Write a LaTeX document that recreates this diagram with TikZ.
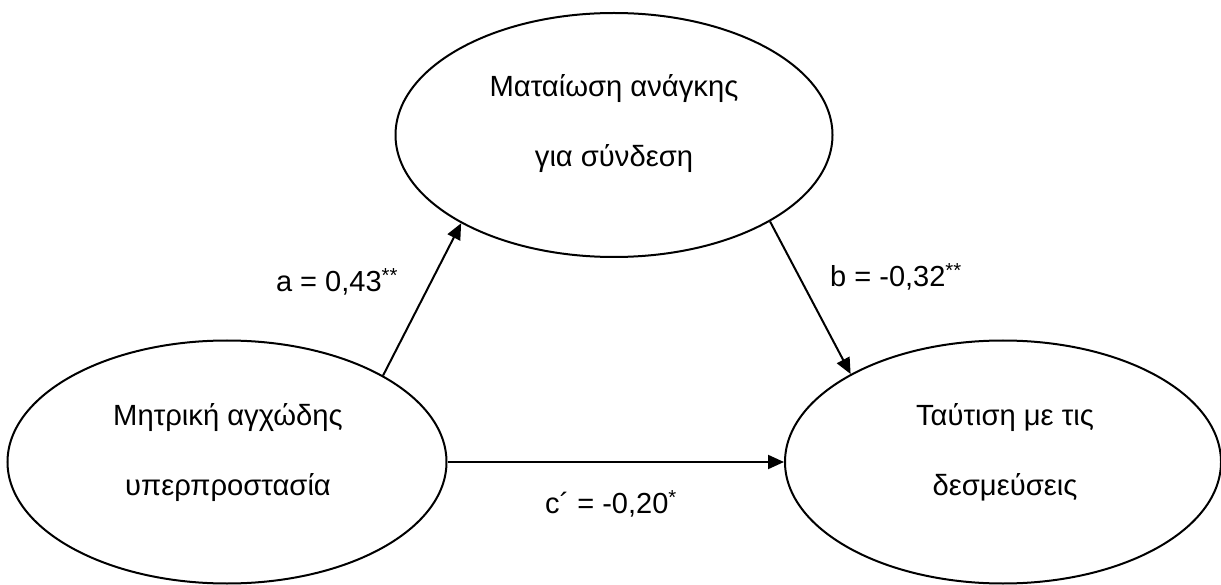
\documentclass[tikz,border=0pt]{standalone}
\usepackage{fontspec}
\setmainfont{Liberation Sans}
\usetikzlibrary{shapes.geometric,arrows.meta}
\tikzset{
  x=1pt, y=-1pt,
  oval/.style={draw, ellipse, line width=2pt, inner sep=0pt},
  ovaltext/.style={align=center, font=\fontsize{29.2}{70}\selectfont, inner sep=0pt},
  coef/.style={font=\fontsize{29}{34}\selectfont, inner sep=0pt},
  path/.style={line width=2pt, -{Triangle[length=16pt,width=14pt]}}
}
\begin{document}
\begin{tikzpicture}
\useasboundingbox (0,0) rectangle (1221,585);
\node[oval, minimum width=437pt, minimum height=244pt] (M) at (614,135) {};
\node[oval, minimum width=439pt, minimum height=243pt] (L) at (227,462) {};
\node[oval, minimum width=436pt, minimum height=243pt] (R) at (1003,462) {};
\node[ovaltext] (Mt) at (614,124) {Ματαίωση ανάγκης\\για σύνδεση};
\node[ovaltext] (Lt) at (228,453) {Μητρική αγχώδης\\υπερπροστασία};
\node[ovaltext] (Rt) at (1005,452) {Ταύτιση με τις\\δεσμεύσεις};
\draw[path] (L.29) -- (M.210);
\draw[path] (M.331) -- (R.150);
\draw[path] (L.east) -- (R.west);
\node[coef] (la) at (337,282) {a = 0,43\textsuperscript{**}};
\node[coef] (lb) at (896,277) {b = -0,32\textsuperscript{**}};
\node[coef] (lc) at (611,504) {c´ = -0,20\textsuperscript{*}};
\end{tikzpicture}
\end{document}
